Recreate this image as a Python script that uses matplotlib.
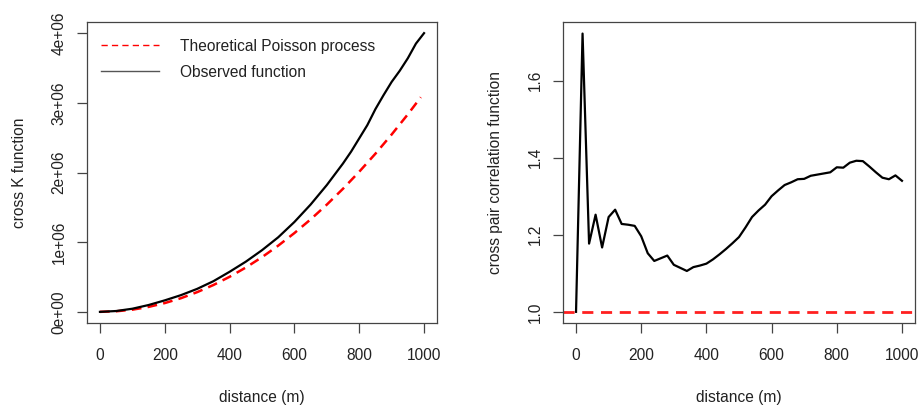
import matplotlib
matplotlib.use("Agg")
import matplotlib.pyplot as plt

plt.rcParams['font.family'] = ['Liberation Sans', 'DejaVu Sans']
plt.rcParams['lines.scale_dashes'] = False

# left panel: cross K function (values in units of 1e6)
r_obs = [0, 50, 100, 150, 200, 250, 300, 350, 400, 450, 500, 550, 600, 650,
         700, 750, 775, 800, 825, 850, 875, 900, 925, 950, 975, 1000]
k_obs = [0, 0.012, 0.045, 0.098, 0.165, 0.24, 0.33, 0.44, 0.575, 0.72, 0.885,
         1.07, 1.29, 1.54, 1.82, 2.13, 2.30, 2.49, 2.68, 2.91, 3.11, 3.30,
         3.46, 3.64, 3.85, 4.00]
r_theo = [0, 50, 100, 150, 200, 250, 300, 350, 400, 450, 500, 550, 600, 650,
          700, 750, 800, 850, 900, 950, 990]
k_theo = [0, 0.008, 0.031, 0.071, 0.126, 0.196, 0.283, 0.385, 0.503, 0.636,
          0.785, 0.950, 1.131, 1.327, 1.539, 1.767, 2.011, 2.270, 2.545,
          2.835, 3.08]

# right panel: cross pair correlation function
r_g = list(range(0, 1001, 20))
g_obs = [1.000, 1.722, 1.177, 1.252, 1.167, 1.246, 1.265, 1.228, 1.226, 1.223,
         1.196, 1.152, 1.132, 1.139, 1.146, 1.122, 1.114, 1.106, 1.116, 1.120,
         1.125, 1.136, 1.149, 1.163, 1.178, 1.194, 1.219, 1.246, 1.263, 1.278,
         1.300, 1.315, 1.329, 1.336, 1.344, 1.345, 1.353, 1.356, 1.359, 1.362,
         1.375, 1.374, 1.387, 1.392, 1.391, 1.377, 1.362, 1.348, 1.344, 1.354,
         1.340]
g_theo = 1.0

x_ticks = [0, 200, 400, 600, 800, 1000]
k_ticks = [0, 1, 2, 3, 4]
k_labels = ['0e+00', '1e+06', '2e+06', '3e+06', '4e+06']
g_ticks = [1.0, 1.2, 1.4, 1.6]
g_labels = ['1.0', '1.2', '1.4', '1.6']

W, H = 918, 405
fs = 11.2
edge = '#444444'
txt = '#222222'

fig = plt.figure(figsize=(W / 100, H / 100), dpi=100)
ax1 = fig.add_axes([87 / W, 1 - 323 / H, 350 / W, 301 / H])
ax2 = fig.add_axes([563 / W, 1 - 323 / H, 352 / W, 301 / H])


def style(ax):
    for s in ax.spines.values():
        s.set_color(edge)
        s.set_linewidth(0.9)
    ax.tick_params(length=7.2, width=0.9, color=edge, labelsize=fs,
                   labelcolor=txt)
    ax.tick_params(axis='x', pad=11)
    ax.tick_params(axis='y', pad=7.5)
    for lab in ax.get_yticklabels():
        lab.set_rotation(90)
        lab.set_va('center')


ax1.plot(r_theo, k_theo, color='red', lw=1.8, dashes=(7, 4.5),
         label='Theoretical Poisson process')
ax1.plot(r_obs, k_obs, color='black', lw=1.6, label='Observed function')
ax1.set_xlim(-40, 1040)
ax1.set_ylim(-0.16, 4.16)
ax1.set_xticks(x_ticks)
ax1.set_yticks(k_ticks, k_labels)
style(ax1)
ax1.set_xlabel('distance (m)', fontsize=fs, color=txt, labelpad=19)
ax1.set_ylabel('cross K function', fontsize=fs, color=txt, labelpad=18)
leg = ax1.legend(loc='upper left', bbox_to_anchor=(0.04, 0.945), frameon=False,
                 fontsize=fs, handlelength=3.7, handletextpad=1.35,
                 labelspacing=0.72, borderpad=0, borderaxespad=0)
for ln in leg.get_lines():
    ln.set_linewidth(1.0)
leg.get_lines()[0].set_dashes((4.5, 3))
leg.get_lines()[1].set_color('#555555')
for t in leg.get_texts():
    t.set_color(txt)

ax2.axhline(g_theo, color='#ff2020', lw=2.0, dashes=(8, 5.5))
ax2.plot(r_g, g_obs, color='black', lw=1.6)
ax2.set_xlim(-40, 1040)
ax2.set_ylim(0.971, 1.752)
ax2.set_xticks(x_ticks)
ax2.set_yticks(g_ticks, g_labels)
style(ax2)
ax2.set_xlabel('distance (m)', fontsize=fs, color=txt, labelpad=19)
ax2.set_ylabel('cross pair correlation function', fontsize=fs, color=txt,
               labelpad=18)

fig.savefig('out.png', dpi=100)
